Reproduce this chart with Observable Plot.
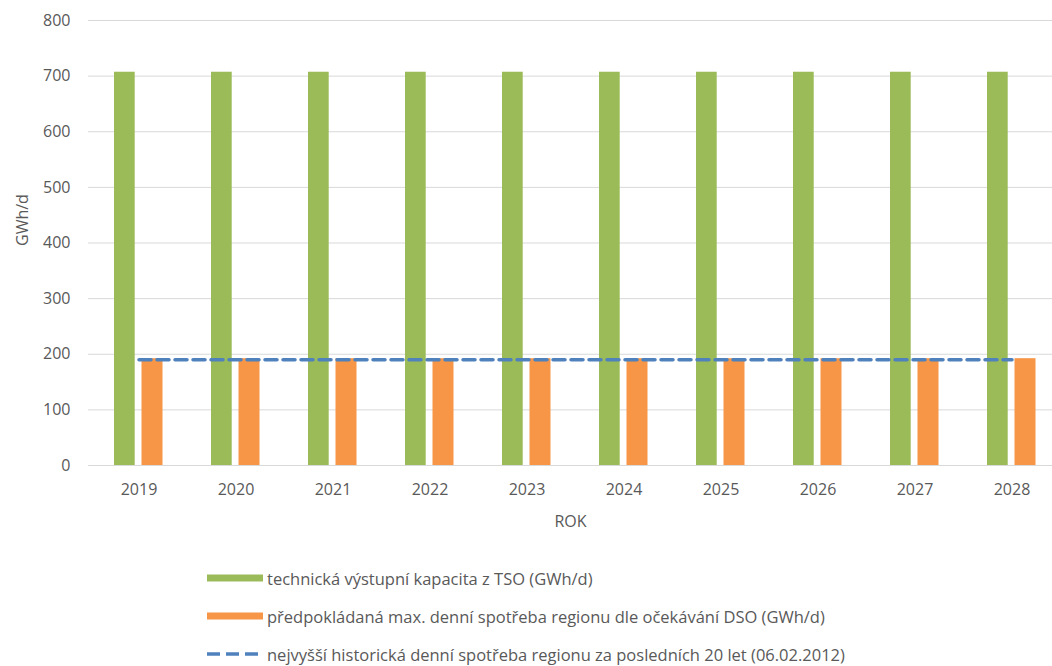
<!DOCTYPE html>
<html>
<head>
<meta charset="utf-8">
<script src="https://cdn.jsdelivr.net/npm/d3@7"></script>
<script src="https://cdn.jsdelivr.net/npm/@observablehq/plot@0.6"></script>
<style>
  html, body { margin: 0; padding: 0; background: #fff; overflow: hidden; }
  body { width: 1052px; height: 666px; font-family: "Open Sans", sans-serif; }
  #chart svg { display: block; overflow: visible; }
  .legend { position: relative; }
  .row { position: absolute; left: 207px; display: flex; align-items: center; height: 20px; color: #595959; font-size: 16.5px; white-space: nowrap; }
  .row svg { margin-right: 4px; }
</style>
</head>
<body>
<div id="chart"></div>
<div class="legend" id="legend"></div>
<script>
const years = ["2019","2020","2021","2022","2023","2024","2025","2026","2027","2028"];
const tsoCapacity = [707, 707, 707, 707, 707, 707, 707, 707, 707, 707];
const dsoDemand = [192, 192, 192, 192, 192, 192, 192, 192, 192, 192];
const historicalPeak = [190, 190, 190, 190, 190, 190, 190, 190, 190, 190];
const yTicks = [0, 100, 200, 300, 400, 500, 600, 700, 800];
const seriesNames = [
  "technická výstupní kapacita z TSO (GWh/d)",
  "předpokládaná max. denní spotřeba regionu dle očekávání DSO (GWh/d)",
  "nejvyšší historická denní spotřeba regionu za posledních 20 let (06.02.2012)"
];
const colors = ["#9BBB59", "#F79646", "#4F81BD"];

const rows = years.map((y, i) => ({year: y, tso: tsoCapacity[i], dso: dsoDemand[i], peak: historicalPeak[i]}));

const chart = Plot.plot({
  width: 1052,
  height: 545,
  marginLeft: 88,
  marginRight: 0,
  marginTop: 20,
  marginBottom: 80,
  style: {fontFamily: "'Open Sans', sans-serif", fontSize: "16px", color: "#595959", background: "#fff"},
  x: {type: "band", domain: years, range: [88, 1062], padding: 0},
  y: {domain: [0, 800]},
  marks: [
    Plot.ruleY(yTicks, {stroke: "#d9d9d9", strokeWidth: 1}),
    Plot.barY(rows, {x: "year", y: "tso", fill: colors[0], insetLeft: 24, insetRight: 52.3}),
    Plot.barY(rows, {x: "year", y: "dso", fill: colors[1], insetLeft: 51.5, insetRight: 24.5}),
    Plot.lineY(rows, {x: "year", y: "peak", stroke: colors[2], strokeWidth: 3.5, strokeDasharray: "12,6"}),
    Plot.axisY({ticks: yTicks, tickSize: 0, tickPadding: 18, label: null, fill: "#595959", fontSize: 16}),
    Plot.axisX({tickSize: 0, tickPadding: 18, label: null, fill: "#595959", fontSize: 16}),
    Plot.text(["ROK"], {frameAnchor: "bottom", dy: 61, fill: "#595959", fontSize: 16}),
    Plot.text(["GWh/d"], {frameAnchor: "left", dx: -66, dy: 3, rotate: -90, fill: "#595959", fontSize: 16})
  ]
});
document.getElementById("chart").appendChild(chart);

const legend = document.getElementById("legend");
const rowTops = [23, 61, 99];
seriesNames.forEach((name, i) => {
  const r = document.createElement("div");
  r.className = "row";
  r.style.top = rowTops[i] + "px";
  const sw = i < 2
    ? `<svg width="56" height="8"><rect x="0" y="0.5" width="56" height="7" fill="${colors[i]}"/></svg>`
    : `<svg width="56" height="8"><line x1="0" x2="56" y1="4" y2="4" stroke="${colors[i]}" stroke-width="3.5" stroke-dasharray="13,6"/></svg>`;
  r.innerHTML = sw + `<span>${name}</span>`;
  legend.appendChild(r);
});
</script>
</body>
</html>
